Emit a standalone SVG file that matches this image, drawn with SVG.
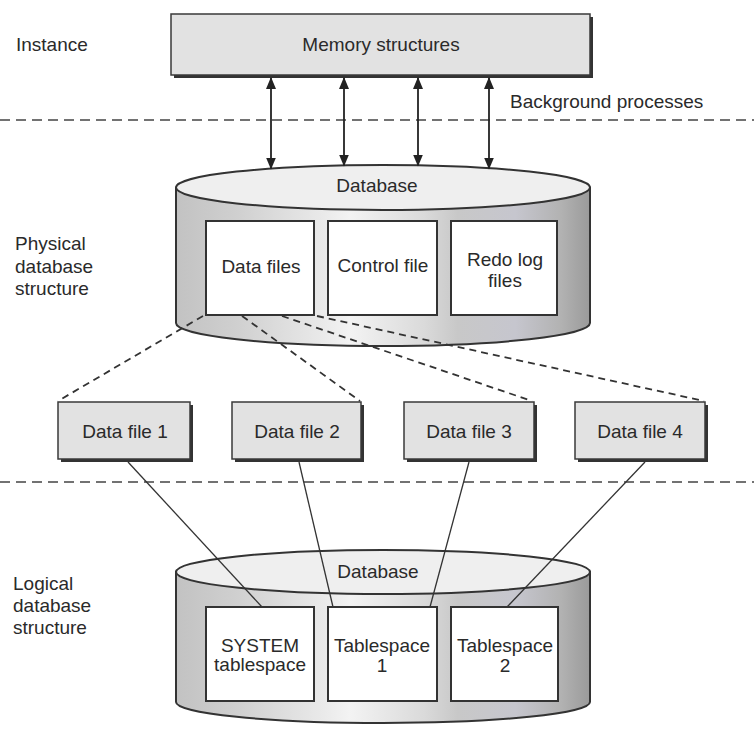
<svg xmlns="http://www.w3.org/2000/svg" width="754" height="729" viewBox="0 0 754 729">
  <style>
    text { font-family: "Liberation Sans", Arial, sans-serif; font-size: 19px; fill: #2a2a2a; }
    .c { text-anchor: middle; }
    .box { fill: #e2e2e2; stroke: #3a3a3a; stroke-width: 1.5; }
    .shadow { fill: #333; }
    .inner { fill: #fff; stroke: #333; stroke-width: 2; }
    .cylbody { fill: url(#cylGrad); stroke: #333; stroke-width: 2; }
    .cyltop { fill: #efefef; stroke: #333; stroke-width: 2; }
    .sep { stroke: #444; stroke-width: 1.6; stroke-dasharray: 10 6; fill: none; }
    .dash { stroke: #333; stroke-width: 1.8; stroke-dasharray: 7 5; fill: none; }
    .solid { stroke: #333; stroke-width: 1.3; fill: none; }
    .arrow { stroke: #222; stroke-width: 1.8; fill: none; marker-start: url(#ah); marker-end: url(#ah); }
  </style>
  <defs>
    <linearGradient id="cylGrad" x1="0" y1="0" x2="1" y2="0">
      <stop offset="0" stop-color="#c2c2c2"/>
      <stop offset="0.15" stop-color="#d0d0d0"/>
      <stop offset="0.35" stop-color="#e9e9e9"/>
      <stop offset="0.42" stop-color="#f3f3f3"/>
      <stop offset="0.6" stop-color="#dadada"/>
      <stop offset="0.68" stop-color="#c8c8c8"/>
      <stop offset="0.82" stop-color="#c6c6ce"/>
      <stop offset="0.93" stop-color="#b2b2b2"/>
      <stop offset="1" stop-color="#9a9a9a"/>
    </linearGradient>
    <marker id="ah" viewBox="0 0 12 10" refX="11" refY="5" markerWidth="12" markerHeight="10" markerUnits="userSpaceOnUse" orient="auto-start-reverse">
      <path d="M0,0 L12,5 L0,10 Z" fill="#222"/>
    </marker>
  </defs>

  <rect width="754" height="729" fill="#fff"/>

  <!-- separators -->
  <g id="separators">
    <line class="sep" x1="0" y1="120" x2="754" y2="120"/>
    <line class="sep" x1="0" y1="482" x2="754" y2="482"/>
  </g>

  <!-- side labels -->
  <g id="labels">
    <text x="16" y="51">Instance</text>
    <text x="510" y="108">Background processes</text>
    <text x="15" y="250">Physical</text>
    <text x="15" y="273">database</text>
    <text x="15" y="295">structure</text>
    <text x="13" y="590">Logical</text>
    <text x="13" y="612">database</text>
    <text x="13" y="634">structure</text>
  </g>

  <!-- Memory structures -->
  <g id="memory">
    <rect class="shadow" x="174" y="17" width="419" height="61"/>
    <rect class="box" x="171" y="14" width="419" height="61"/>
    <text class="c" x="381" y="51">Memory structures</text>
  </g>

  <!-- Physical database cylinder -->
  <g id="physical-db">
    <path class="cylbody" d="M176,187.5 L176,323 A207,23 0 0 0 590,323 L590,187.5 Z"/>
    <ellipse class="cyltop" cx="383" cy="187.5" rx="207" ry="22.5"/>
    <text class="c" x="377" y="192">Database</text>
  </g>
  <g id="data-files">
    <rect class="inner" x="206" y="221" width="108" height="94"/>
    <text class="c" x="261" y="273">Data files</text>
  </g>
  <g id="control-file">
    <rect class="inner" x="328" y="221" width="109" height="94"/>
    <text class="c" x="383" y="272">Control file</text>
  </g>
  <g id="redo-log-files">
    <rect class="inner" x="451" y="221" width="106" height="94"/>
    <text class="c" x="505" y="266">Redo log</text>
    <text class="c" x="505" y="287">files</text>
  </g>

  <!-- Data file boxes -->
  <g id="data-file-1">
    <rect class="shadow" x="61" y="405" width="132" height="57"/>
    <rect class="box" x="58" y="402" width="132" height="57"/>
    <text class="c" x="125" y="438">Data file 1</text>
  </g>
  <g id="data-file-2">
    <rect class="shadow" x="235" y="405" width="129" height="57"/>
    <rect class="box" x="232" y="402" width="129" height="57"/>
    <text class="c" x="297" y="438">Data file 2</text>
  </g>
  <g id="data-file-3">
    <rect class="shadow" x="407" y="405" width="130" height="57"/>
    <rect class="box" x="404" y="402" width="130" height="57"/>
    <text class="c" x="469" y="438">Data file 3</text>
  </g>
  <g id="data-file-4">
    <rect class="shadow" x="578" y="405" width="130" height="57"/>
    <rect class="box" x="575" y="402" width="130" height="57"/>
    <text class="c" x="640" y="438">Data file 4</text>
  </g>

  <!-- Logical database cylinder -->
  <g id="logical-db">
    <path class="cylbody" d="M176,572 L176,702 A207,21 0 0 0 590,702 L590,572 Z"/>
    <ellipse class="cyltop" cx="383" cy="572" rx="207" ry="22"/>
    <text class="c" x="378" y="578">Database</text>
  </g>
  <g id="system-tablespace">
    <rect class="inner" x="206" y="607" width="108" height="94"/>
    <text class="c" x="260" y="652">SYSTEM</text>
    <text class="c" x="260" y="671">tablespace</text>
  </g>
  <g id="tablespace-1">
    <rect class="inner" x="328" y="607" width="109" height="94"/>
    <text class="c" x="382" y="652">Tablespace</text>
    <text class="c" x="382" y="672">1</text>
  </g>
  <g id="tablespace-2">
    <rect class="inner" x="451" y="607" width="107" height="94"/>
    <text class="c" x="505" y="652">Tablespace</text>
    <text class="c" x="505" y="672">2</text>
  </g>

  <!-- connectors -->
  <g id="connectors">
    <line class="arrow" x1="271" y1="78" x2="271" y2="168.5"/>
    <line class="arrow" x1="344" y1="78" x2="344" y2="165.5"/>
    <line class="arrow" x1="418" y1="78" x2="418" y2="165.5"/>
    <line class="arrow" x1="489" y1="78" x2="489" y2="168.5"/>

    <line class="dash" x1="203" y1="316" x2="58" y2="401"/>
    <line class="dash" x1="242" y1="316" x2="360" y2="401"/>
    <line class="dash" x1="282" y1="316" x2="532" y2="401"/>
    <line class="dash" x1="317" y1="316" x2="704" y2="401"/>

    <line class="solid" x1="128" y1="462" x2="262" y2="607"/>
    <line class="solid" x1="299" y1="462" x2="333" y2="607"/>
    <line class="solid" x1="469" y1="462" x2="430" y2="607"/>
    <line class="solid" x1="645" y1="462" x2="507" y2="607"/>
  </g>
</svg>
